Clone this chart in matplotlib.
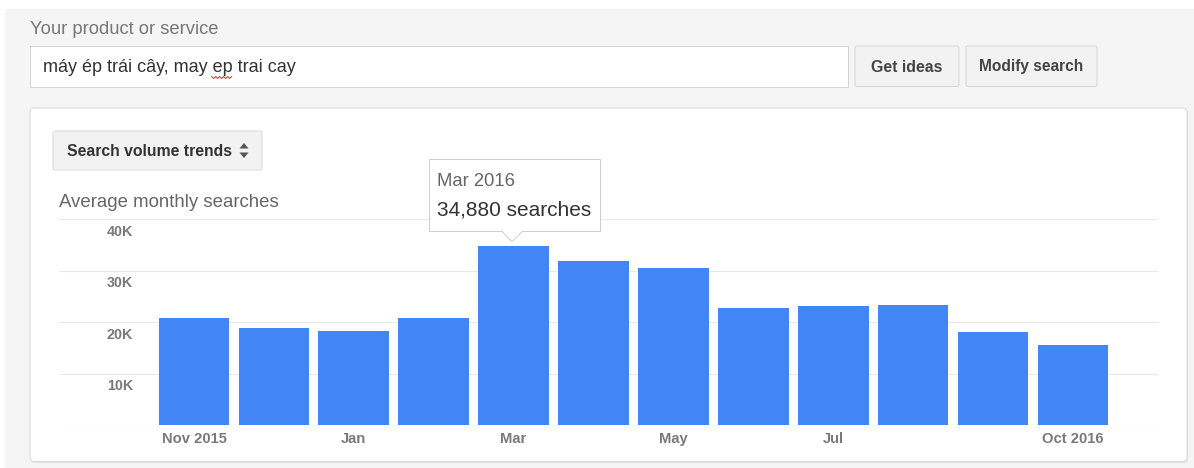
import matplotlib
matplotlib.use("Agg")
import matplotlib.pyplot as plt
from matplotlib.patches import FancyBboxPatch, Polygon
from matplotlib.lines import Line2D
from matplotlib.transforms import IdentityTransform, blended_transform_factory, offset_copy
import numpy as np

# ---------------- data ----------------
months = ["Nov 2015", "Dec 2015", "Jan 2016", "Feb 2016", "Mar 2016", "Apr 2016",
          "May 2016", "Jun 2016", "Jul 2016", "Aug 2016", "Sep 2016", "Oct 2016"]
searches = [20900, 18900, 18300, 20900, 34880, 31900, 30600, 22800, 23100, 23300, 18100, 15600]
xtick_idx = [0, 2, 4, 6, 8, 11]
xtick_labels = ["Nov 2015", "Jan", "Mar", "May", "Jul", "Oct 2016"]
ytick_values = [10000, 20000, 30000, 40000]
ytick_labels = ["10K", "20K", "30K", "40K"]
highlight = 4
query = "máy ép trái cây, may ep trai cay"

plt.rcParams['font.family'] = ['Liberation Sans', 'DejaVu Sans']

W, H = 1194, 468
fig = plt.figure(figsize=(W / 100, H / 100), dpi=100)
fig.patch.set_facecolor("white")
I = IdentityTransform()
renderer = fig.canvas.get_renderer()


def box(x0, y0, x1, y1, fc, ec, r=0.0, lw=1.0, z=1):
    style = f"round,pad=0,rounding_size={r}" if r else "square,pad=0"
    p = FancyBboxPatch((x0, H - y1), x1 - x0, y1 - y0, boxstyle=style,
                       fc=fc, ec=ec, lw=lw * 0.72, transform=I, zorder=z)
    fig.add_artist(p)
    return p


def txt(x, y, s, **kw):
    return fig.text(x, H - y, s, transform=I, **kw)


def text_width(s, **kw):
    t = fig.text(0, 0, s, transform=I, **kw)
    w = t.get_window_extent(renderer).width
    t.remove()
    return w


# page background
box(5, 9, W + 2, H + 2, "#f5f5f5", "none", z=0)

# header
txt(30, 34, "Your product or service", fontsize=13.2, color="#777777", va="baseline")
box(30, 46, 848, 87, "white", "#d4d4d4", z=1)
qkw = dict(fontsize=13.0, color="#333333")
txt(43, 72, query, va="baseline", **qkw)
# spell-check squiggle under "ep"
prefix = query[:query.index(" ep ") + 1]
x_ep0 = 43 + text_width(prefix, **qkw)
x_ep1 = x_ep0 + text_width("ep", **qkw)
sx = np.arange(x_ep0 - 1, x_ep1 + 1, 2)
sy = np.where(np.arange(len(sx)) % 2 == 0, H - 76.5, H - 78.5)
fig.add_artist(Line2D(sx, sy, color="#e03030", lw=0.7, transform=I, zorder=2))

box(855, 46, 959, 86.5, "#f2f2f2", "#d6d6d6", r=2, z=1)
txt(907, 71.5, "Get ideas", fontsize=11.4, fontweight="bold", color="#444444",
    ha="center", va="baseline")
box(966, 46, 1097, 86.5, "#f2f2f2", "#d6d6d6", r=2, z=1)
txt(1031.5, 71.5, "Modify search", fontsize=11.2, fontweight="bold", color="#444444",
    ha="center", va="baseline")

# white panel
box(31, 109.5, 1188, 463, "#e2e2e2", "none", r=4, z=0.5)  # soft shadow
box(30, 108, 1187, 461.5, "white", "#d8d8d8", r=4, z=1)

# dropdown button
box(53, 131, 262, 170, "#f2f2f2", "#dadada", r=2, z=1.5)
txt(67, 156.5, "Search volume trends", fontsize=11.3, fontweight="bold", color="#333333",
    va="baseline")
fig.add_artist(Polygon([(239.5, H - 148.5), (248.5, H - 148.5), (244, H - 143)],
                       closed=True, fc="#555555", ec="none", transform=I, zorder=2))
fig.add_artist(Polygon([(239.5, H - 152.5), (248.5, H - 152.5), (244, H - 158)],
                       closed=True, fc="#555555", ec="none", transform=I, zorder=2))

txt(59, 207, "Average monthly searches", fontsize=13.4, color="#666666", va="baseline")

# ---------------- chart ----------------
ax = fig.add_axes([59 / W, (H - 425) / H, 1099 / W, (425 - 219.3) / H])
ax.set_zorder(2)
ax.patch.set_alpha(0)
x = np.arange(len(months))
ax.bar(x, searches, width=0.885, color="#4285f4", zorder=2)
ax.set_xlim(-1.69, 12.065)
ax.set_ylim(0, 40000)
ax.set_yticks([0] + ytick_values)
ax.yaxis.grid(True, color="#e8e8e8", lw=0.8)
ax.set_axisbelow(True)
ax.tick_params(axis="y", length=0, labelleft=False)
for s in ax.spines.values():
    s.set_visible(False)
ax.set_xticks(xtick_idx, xtick_labels)
ax.tick_params(axis="x", length=0, pad=5.2, labelsize=10.6, labelcolor="#7a7a7a")
for lab in ax.get_xticklabels():
    lab.set_fontweight("bold")

ytrans = offset_copy(blended_transform_factory(ax.transAxes, ax.transData),
                     fig=fig, x=0, y=-16.5, units="dots")
for v, lab in zip(ytick_values, ytick_labels):
    ax.text((133.3 - 59) / 1099, v, lab, transform=ytrans, ha="right", va="baseline",
            fontsize=10.3, fontweight="bold", color="#7a7a7a")

# ---------------- tooltip ----------------
box(428.5, 158.5, 600, 231, "white", "#cfcfcf", z=3)
fig.add_artist(Polygon([(501.5, H - 230.4), (523, H - 230.4), (512, H - 241.5)],
                       closed=True, fc="white", ec="none", transform=I, zorder=3.1))
fig.add_artist(Line2D([501.5, 512, 523], [H - 231, H - 241.5, H - 231],
                      color="#cfcfcf", lw=0.72, transform=I, zorder=3.2))
txt(437, 186, months[highlight], fontsize=13.3, color="#666666", va="baseline", zorder=4)
txt(437, 216, f"{searches[highlight]:,} searches", fontsize=15.0, color="#333333",
    va="baseline", zorder=4)

fig.savefig("out.png", dpi=100, facecolor=fig.get_facecolor())
